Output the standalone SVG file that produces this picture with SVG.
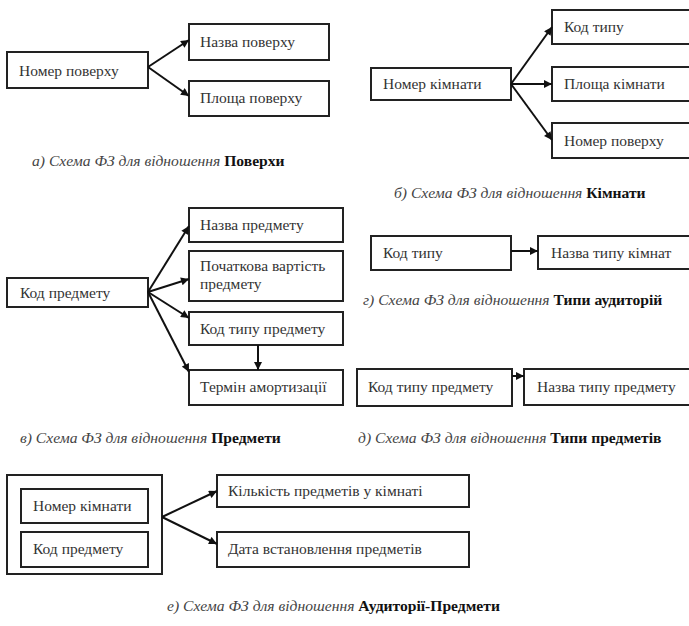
<svg xmlns="http://www.w3.org/2000/svg" width="689" height="626" viewBox="0 0 689 626">
  <style>
    .box { fill: #ffffff; stroke: #222222; stroke-width: 2; }
    .lbl { font-family: 'Liberation Serif', 'Times New Roman', serif; font-size: 15.5px; fill: #333333; }
    .cap { font-family: 'Liberation Serif', 'Times New Roman', serif; font-size: 15.6px; fill: #222222; }
    .cap .it { font-style: italic; fill: #444444; }
    .cap .bd { font-weight: bold; fill: #111111; }
    .edge { fill: none; stroke: #111111; stroke-width: 2; }
  </style>
  <defs>
    <marker id="arrow" viewBox="0 0 10 10" refX="10" refY="5" markerWidth="10" markerHeight="8" markerUnits="userSpaceOnUse" orient="auto">
      <path d="M0,0 L10,5 L0,10 Z" fill="#111111"/>
    </marker>
  </defs>
  <rect width="689" height="626" fill="#ffffff"/>

  <!-- а) Поверхи -->
  <g id="n-nomer-poverkhu">
    <rect class="box" x="7" y="52" width="141" height="36"/>
    <text class="lbl" x="19" y="76">Номер поверху</text>
  </g>
  <g id="n-nazva-poverkhu">
    <rect class="box" x="189" y="24" width="140" height="36"/>
    <text class="lbl" x="200" y="47">Назва поверху</text>
  </g>
  <g id="n-ploshcha-poverkhu">
    <rect class="box" x="189" y="81" width="140" height="35"/>
    <text class="lbl" x="200" y="103">Площа поверху</text>
  </g>
  <text class="cap" x="32" y="166"><tspan class="it">а) Схема ФЗ для відношення </tspan><tspan class="bd">Поверхи</tspan></text>

  <!-- б) Кімнати -->
  <g id="n-nomer-kimnaty">
    <rect class="box" x="371" y="68" width="140" height="32"/>
    <text class="lbl" x="383" y="89">Номер кімнати</text>
  </g>
  <g id="n-kod-typu">
    <rect class="box" x="552" y="10" width="145" height="34"/>
    <text class="lbl" x="564" y="32">Код типу</text>
  </g>
  <g id="n-ploshcha-kimnaty">
    <rect class="box" x="552" y="67" width="145" height="34"/>
    <text class="lbl" x="564" y="89">Площа кімнати</text>
  </g>
  <g id="n-nomer-poverkhu-2">
    <rect class="box" x="552" y="123" width="145" height="35"/>
    <text class="lbl" x="564" y="146">Номер поверху</text>
  </g>
  <text class="cap" x="394" y="198"><tspan class="it">б) Схема ФЗ для відношення </tspan><tspan class="bd">Кімнати</tspan></text>

  <!-- в) Предмети -->
  <g id="n-kod-predmetu">
    <rect class="box" x="7" y="278" width="141" height="29"/>
    <text class="lbl" x="20" y="298">Код предмету</text>
  </g>
  <g id="n-nazva-predmetu">
    <rect class="box" x="189" y="208" width="154" height="34"/>
    <text class="lbl" x="200" y="230">Назва предмету</text>
  </g>
  <g id="n-pochatkova-vartist">
    <rect class="box" x="189" y="251" width="154" height="50"/>
    <text class="lbl" x="200" y="271">Початкова вартість</text>
    <text class="lbl" x="200" y="289">предмету</text>
  </g>
  <g id="n-kod-typu-predmetu">
    <rect class="box" x="189" y="312" width="154" height="33"/>
    <text class="lbl" x="200" y="334">Код типу предмету</text>
  </g>
  <g id="n-termin-amortyzatsii">
    <rect class="box" x="189" y="370" width="154" height="35"/>
    <text class="lbl" x="200" y="392">Термін амортизації</text>
  </g>
  <text class="cap" x="20" y="443"><tspan class="it">в) Схема ФЗ для відношення </tspan><tspan class="bd">Предмети</tspan></text>

  <!-- г) Типи аудиторій -->
  <g id="n-kod-typu-g">
    <rect class="box" x="371" y="236" width="140" height="34"/>
    <text class="lbl" x="383" y="258">Код типу</text>
  </g>
  <g id="n-nazva-typu-kimnat">
    <rect class="box" x="538" y="236" width="160" height="33"/>
    <text class="lbl" x="551" y="258">Назва типу кімнат</text>
  </g>
  <text class="cap" x="363" y="305"><tspan class="it">г) Схема ФЗ для відношення </tspan><tspan class="bd">Типи аудиторій</tspan></text>

  <!-- д) Типи предметів -->
  <g id="n-kod-typu-predmetu-d">
    <rect class="box" x="357" y="369" width="155" height="37"/>
    <text class="lbl" x="368" y="392">Код типу предмету</text>
  </g>
  <g id="n-nazva-typu-predmetu">
    <rect class="box" x="524" y="369" width="170" height="36"/>
    <text class="lbl" x="537" y="392">Назва типу предмету</text>
  </g>
  <text class="cap" x="358" y="443"><tspan class="it">д) Схема ФЗ для відношення </tspan><tspan class="bd">Типи предметів</tspan></text>

  <!-- е) Аудиторії-Предмети -->
  <g id="n-kluch-ap">
    <rect class="box" x="7" y="475" width="155" height="99"/>
    <g id="n-nomer-kimnaty-e">
      <rect class="box" x="21" y="489" width="127" height="34"/>
      <text class="lbl" x="33" y="511">Номер кімнати</text>
    </g>
    <g id="n-kod-predmetu-e">
      <rect class="box" x="21" y="532" width="127" height="35"/>
      <text class="lbl" x="33" y="554">Код предмету</text>
    </g>
  </g>
  <g id="n-kilkist">
    <rect class="box" x="217" y="475" width="252" height="32"/>
    <text class="lbl" x="228" y="496">Кількість предметів у кімнаті</text>
  </g>
  <g id="n-data">
    <rect class="box" x="217" y="532" width="252" height="35"/>
    <text class="lbl" x="228" y="554">Дата встановлення предметів</text>
  </g>
  <text class="cap" x="167" y="611"><tspan class="it">е) Схема ФЗ для відношення </tspan><tspan class="bd">Аудиторії-Предмети</tspan></text>

  <!-- connectors -->
  <g id="connectors">
    <line class="edge" x1="148" y1="67" x2="189" y2="40" marker-end="url(#arrow)"/>
    <line class="edge" x1="148" y1="67" x2="189" y2="96" marker-end="url(#arrow)"/>

    <line class="edge" x1="511" y1="84" x2="552" y2="27" marker-end="url(#arrow)"/>
    <line class="edge" x1="511" y1="84" x2="552" y2="84" marker-end="url(#arrow)"/>
    <line class="edge" x1="511" y1="84" x2="552" y2="140" marker-end="url(#arrow)"/>

    <line class="edge" x1="148" y1="292" x2="189" y2="226" marker-end="url(#arrow)"/>
    <line class="edge" x1="148" y1="292" x2="189" y2="279" marker-end="url(#arrow)"/>
    <line class="edge" x1="148" y1="292" x2="189" y2="318" marker-end="url(#arrow)"/>
    <line class="edge" x1="148" y1="292" x2="189" y2="372" marker-end="url(#arrow)"/>
    <line class="edge" x1="258" y1="345" x2="258" y2="370" marker-end="url(#arrow)"/>

    <line class="edge" x1="511" y1="251" x2="538" y2="251" marker-end="url(#arrow)"/>
    <line class="edge" x1="512" y1="376" x2="524" y2="376" marker-end="url(#arrow)"/>

    <line class="edge" x1="162" y1="517" x2="217" y2="491" marker-end="url(#arrow)"/>
    <line class="edge" x1="162" y1="517" x2="217" y2="544" marker-end="url(#arrow)"/>
  </g>
</svg>
